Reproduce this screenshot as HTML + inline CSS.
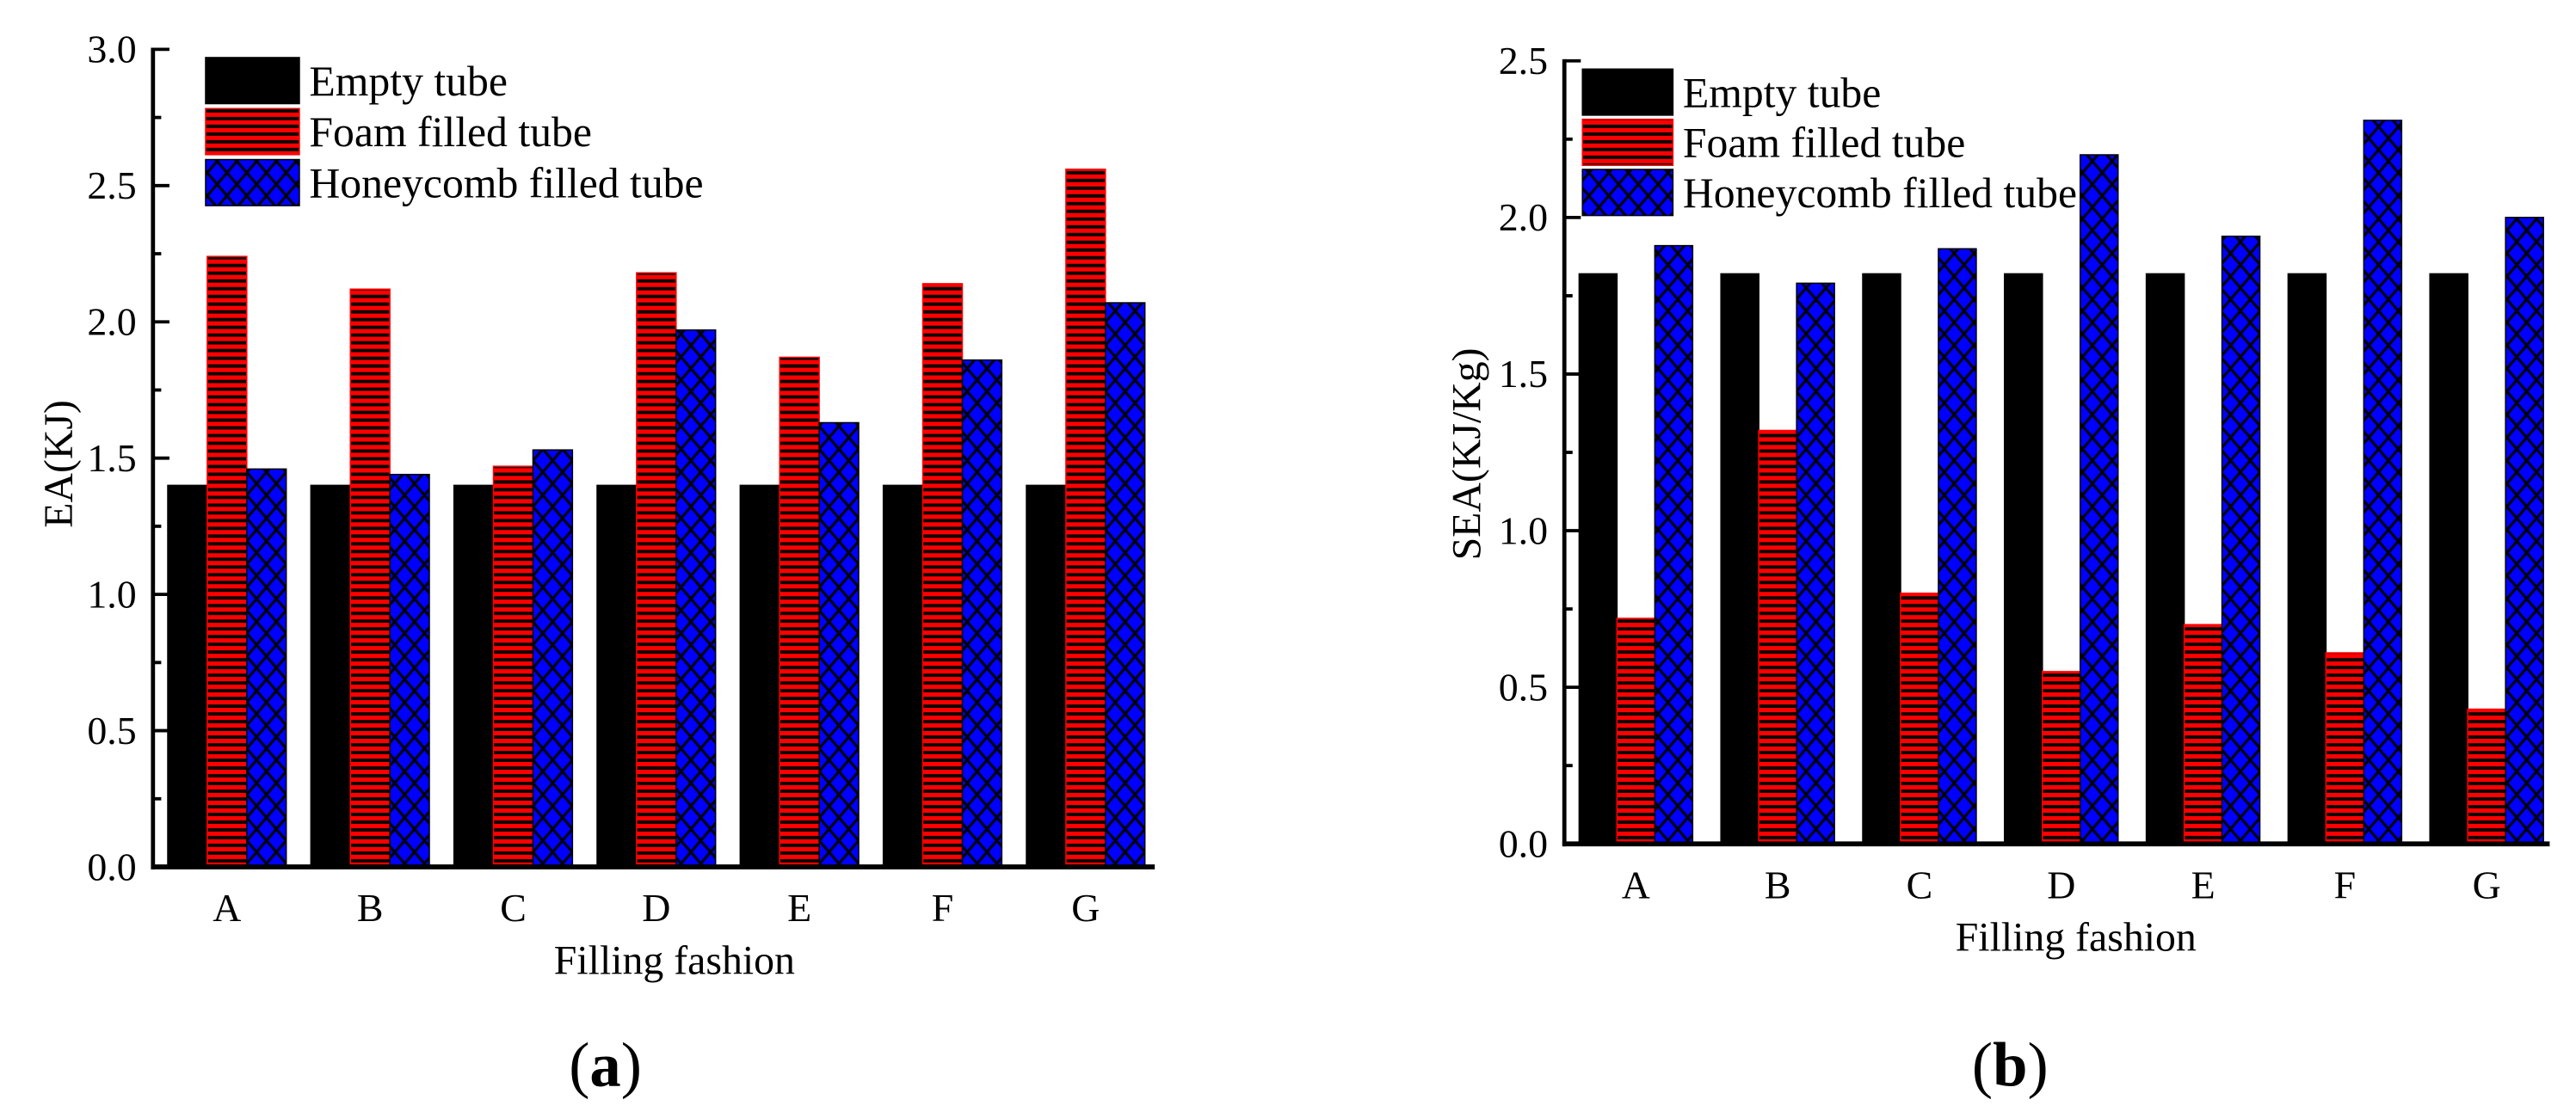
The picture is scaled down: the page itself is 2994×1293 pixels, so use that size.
<!DOCTYPE html>
<html><head><meta charset="utf-8"><style>
html,body{margin:0;padding:0;background:#fff;}
svg{display:block;font-family:"Liberation Serif","Times New Roman",serif;}
</style></head><body>
<svg id="fig" width="2994" height="1293" viewBox="0 0 1566 676" preserveAspectRatio="none">
<defs>
<pattern id="foam" patternUnits="userSpaceOnUse" width="8" height="4.7"><rect width="8" height="4.7" fill="#ff0000"/><rect y="0.6" width="8" height="2" fill="#000"/></pattern>
<pattern id="honey" patternUnits="userSpaceOnUse" width="12" height="14"><rect width="12" height="14" fill="#0000ff"/><path d="M0,0L12,14M12,0L0,14" stroke="#000" stroke-width="1.6"/></pattern>
</defs>
<g id="chartA"></g>
<g id="chartB"></g>
</svg>
<script>
const categories = ["A","B","C","D","E","F","G"];
const eaEmpty = [1.40,1.40,1.40,1.40,1.40,1.40,1.40];
const eaFoam = [2.24,2.12,1.47,2.18,1.87,2.14,2.56];
const eaHoney = [1.46,1.44,1.53,1.97,1.63,1.86,2.07];
const seaEmpty = [1.82,1.82,1.82,1.82,1.82,1.82,1.82];
const seaFoam = [0.72,1.32,0.80,0.55,0.70,0.61,0.43];
const seaHoney = [1.91,1.79,1.90,2.20,1.94,2.31,2.00];
const eaTicks = ["0.0","0.5","1.0","1.5","2.0","2.5","3.0"];
const seaTicks = ["0.0","0.5","1.0","1.5","2.0","2.5"];
const seriesNames = ["Empty tube","Foam filled tube","Honeycomb filled tube"];

const NS = "http://www.w3.org/2000/svg";
function mk(parent, tag, attrs, text){
  const e = document.createElementNS(NS, tag);
  for (const k in attrs) e.setAttribute(k, attrs[k]);
  if (text !== undefined) e.textContent = text;
  parent.appendChild(e);
  return e;
}
const fills = [
  {fill:"#000", stroke:"#000"},
  {fill:"url(#foam)", stroke:"#ff0000"},
  {fill:"url(#honey)", stroke:"#000"}
];

function drawChart(g, cfg){
  const yScale = v => cfg.y0 - (v / cfg.yMax) * (cfg.y0 - cfg.yTop);
  const xScale = i => cfg.firstX + i * cfg.step;
  const series = cfg.series;
  for (let s = 0; s < series.length; s++){
    for (let i = 0; i < categories.length; i++){
      const v = series[s][i];
      const x = xScale(i) + (s - 1.5) * cfg.bw;
      const y = yScale(v);
      const r = mk(g, "rect", {x:x, y:y, width:cfg.bw, height:cfg.y0 - y, fill:fills[s].fill, stroke:fills[s].stroke, "stroke-width":0.8});
      
      
    }
  }
  const ya = mk(g, "line", {x1:cfg.ax, y1:cfg.yTop - 1, x2:cfg.ax, y2:cfg.y0 + 1.5, stroke:"#000", "stroke-width":2.5});
  
  
  const xa = mk(g, "line", {x1:cfg.ax - 1.2, y1:cfg.y0, x2:cfg.axEnd, y2:cfg.y0, stroke:"#000", "stroke-width":3});
  
  
  const ticks = cfg.ticks;
  for (let t = 0; t < ticks.length; t++){
    const v = parseFloat(ticks[t]);
    const y = yScale(v);
    const tl = mk(g, "line", {x1:cfg.ax, y1:y, x2:cfg.ax + 10, y2:y, stroke:"#000", "stroke-width":2});
    
    
    if (t < ticks.length - 1){
      const ym = yScale(v + 0.25);
      const tm = mk(g, "line", {x1:cfg.ax, y1:ym, x2:cfg.ax + 5, y2:ym, stroke:"#000", "stroke-width":2});
      
      
    }
    const lb = mk(g, "text", {x:cfg.ax - 10, y:y + 8, "text-anchor":"end", "font-size":24}, ticks[t]);
    
    
  }
  for (let i = 0; i < categories.length; i++){
    const c = mk(g, "text", {x:xScale(i), y:cfg.catY, "text-anchor":"middle", "font-size":24}, categories[i]);
    
    
  }
  const xt = mk(g, "text", {x:cfg.xtX, y:cfg.xtY, "text-anchor":"middle", "font-size":25}, "Filling fashion");
  
  
  const yt = mk(g, "text", {x:0, y:0, "text-anchor":"middle", "font-size":25, transform:"translate(" + cfg.ytX + "," + cfg.ytY + ") rotate(-90)"}, cfg.yTitle);
  
  
  const cap = mk(g, "text", {x:cfg.capX, y:660, "text-anchor":"middle", "font-size":38}, "");
  
  
  mk(cap, "tspan", {}, "(");
  mk(cap, "tspan", {"font-weight":"bold"}, cfg.capLetter);
  mk(cap, "tspan", {}, ")");
  for (let s = 0; s < 3; s++){
    const ly = cfg.legY + s * cfg.legStep;
    const sw = mk(g, "rect", {x:cfg.legX, y:ly, width:cfg.legW, height:cfg.legH, fill:fills[s].fill, stroke:fills[s].stroke, "stroke-width":0.8});
    
    
    const lt = mk(g, "text", {x:cfg.legX + cfg.legW + 6, y:ly + cfg.legH - 5, "font-size":26}, seriesNames[s]);
    
    
  }
}

drawChart(document.getElementById("chartA"), {
  series:[eaEmpty, eaFoam, eaHoney], ticks:eaTicks, yMax:3.0,
  ax:93, axEnd:702, y0:527, yTop:30, firstX:138, step:87, bw:24,
  catY:560, xtX:410, xtY:592, ytX:44, ytY:282, yTitle:"EA(KJ)",
  capX:368, capLetter:"a",
  legX:125, legY:35, legStep:31, legW:57, legH:28
});
drawChart(document.getElementById("chartB"), {
  series:[seaEmpty, seaFoam, seaHoney], ticks:seaTicks, yMax:2.5,
  ax:951, axEnd:1550, y0:513, yTop:37, firstX:994.5, step:86.2, bw:23,
  catY:546, xtX:1262, xtY:578, ytX:900, ytY:276, yTitle:"SEA(KJ/Kg)",
  capX:1222, capLetter:"b",
  legX:962, legY:42, legStep:30.5, legW:55, legH:28
});
</script>
</body></html>
